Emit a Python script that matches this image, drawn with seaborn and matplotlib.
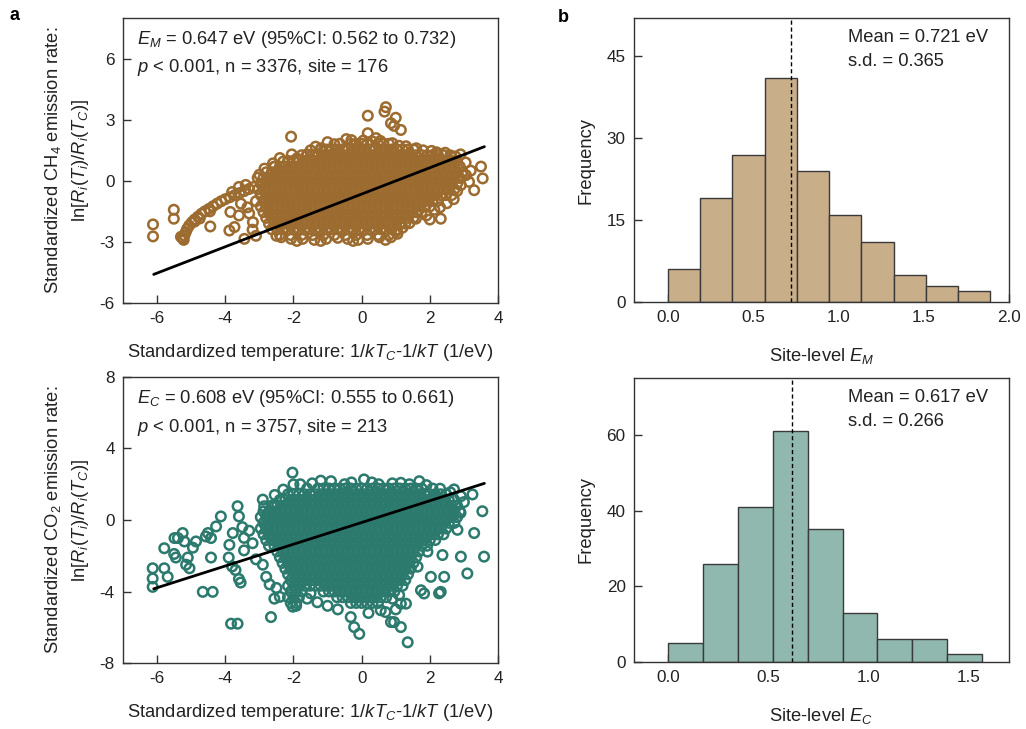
import numpy as np
import pandas as pd
import matplotlib
matplotlib.use("Agg")
import matplotlib.pyplot as plt
import seaborn as sns

# ---------------- data ----------------
# CH4 panel: dense core rows (y value, explicit x positions)
ch4_core_y = [1.82, 1.54, 1.26, 0.98, 0.70, 0.42, 0.14, -0.14, -0.42, -0.70, -0.98,
              -1.26, -1.54, -1.82, -2.10, -2.38, -2.66]
ch4_core_x = [
    "-0.64 -0.32 -0.16 0 0.16 0.48 0.64 0.8",
    "-1.2 -1.04 -0.88 -0.72 -0.56 -0.4 -0.24 -0.08 0.08 0.24 0.4 0.56 0.72 0.88 1.04 1.2 1.36 1.52",
    "-1.76 -1.6 -1.44 -1.28 -1.12 -0.96 -0.8 -0.64 -0.48 -0.32 -0.16 0 0.16 0.32 0.48 0.64 0.8 0.96 1.12 1.28 1.44 1.6 1.76 1.92 2.08 2.24 2.4",
    "-2.16 -2 -1.84 -1.68 -1.52 -1.36 -1.2 -1.04 -0.88 -0.72 -0.56 -0.4 -0.24 -0.08 0.08 0.24 0.4 0.56 0.72 0.88 1.04 1.2 1.36 1.52 1.68 1.84 2 2.16 2.32 2.48 2.64 2.8",
    "-2.56 -2.4 -2.24 -2.08 -1.92 -1.76 -1.6 -1.44 -1.28 -1.12 -0.96 -0.8 -0.64 -0.48 -0.32 -0.16 0 0.16 0.32 0.48 0.64 0.8 0.96 1.12 1.28 1.44 1.6 1.76 1.92 2.08 2.24 2.4 2.56 2.72 2.88",
    "-2.8 -2.64 -2.48 -2.32 -2.16 -2 -1.84 -1.68 -1.52 -1.36 -1.2 -1.04 -0.88 -0.72 -0.56 -0.4 -0.24 -0.08 0.08 0.24 0.4 0.56 0.72 0.88 1.04 1.2 1.36 1.52 1.68 1.84 2 2.16 2.32 2.48 2.64 2.8 2.96",
    "-2.88 -2.72 -2.56 -2.4 -2.24 -2.08 -1.92 -1.76 -1.6 -1.44 -1.28 -1.12 -0.96 -0.8 -0.64 -0.48 -0.32 -0.16 0 0.16 0.32 0.48 0.64 0.8 0.96 1.12 1.28 1.44 1.6 1.76 1.92 2.08 2.24 2.4 2.56 2.72 2.88",
    "-2.96 -2.8 -2.64 -2.48 -2.32 -2.16 -2 -1.84 -1.68 -1.52 -1.36 -1.2 -1.04 -0.88 -0.72 -0.56 -0.4 -0.24 -0.08 0.08 0.24 0.4 0.56 0.72 0.88 1.04 1.2 1.36 1.52 1.68 1.84 2 2.16 2.32 2.48 2.64 2.8",
    "-3.04 -2.88 -2.72 -2.56 -2.4 -2.24 -2.08 -1.92 -1.76 -1.6 -1.44 -1.28 -1.12 -0.96 -0.8 -0.64 -0.48 -0.32 -0.16 0 0.16 0.32 0.48 0.64 0.8 0.96 1.12 1.28 1.44 1.6 1.76 1.92 2.08 2.24 2.4 2.56 2.72",
    "-2.96 -2.8 -2.64 -2.48 -2.32 -2.16 -2 -1.84 -1.68 -1.52 -1.36 -1.2 -1.04 -0.88 -0.72 -0.56 -0.4 -0.24 -0.08 0.08 0.24 0.4 0.56 0.72 0.88 1.04 1.2 1.36 1.52 1.68 1.84 2 2.16 2.32 2.48 2.64",
    "-2.88 -2.72 -2.56 -2.4 -2.24 -2.08 -1.92 -1.76 -1.6 -1.44 -1.28 -1.12 -0.96 -0.8 -0.64 -0.48 -0.32 -0.16 0 0.16 0.32 0.48 0.64 0.8 0.96 1.12 1.28 1.44 1.6 1.76 1.92 2.08 2.24",
    "-2.96 -2.8 -2.64 -2.48 -2.32 -2.16 -2 -1.84 -1.68 -1.52 -1.36 -1.2 -1.04 -0.88 -0.72 -0.56 -0.4 -0.24 -0.08 0.08 0.24 0.4 0.56 0.72 0.88 1.04 1.2 1.36 1.52 1.68 1.84 2",
    "-2.88 -2.72 -2.56 -2.4 -2.24 -2.08 -1.92 -1.76 -1.6 -1.44 -1.28 -1.12 -0.96 -0.8 -0.64 -0.48 -0.32 -0.16 0 0.16 0.32 0.48 0.64 0.8 0.96 1.12 1.28 1.44 1.6 1.76",
    "-2.8 -2.64 -2.48 -2.32 -2.16 -2 -1.84 -1.68 -1.52 -1.36 -1.2 -1.04 -0.88 -0.72 -0.56 -0.4 -0.24 -0.08 0.08 0.24 0.4 0.56 0.72 0.88 1.04 1.2 1.36 1.52",
    "-2.72 -2.56 -2.4 -2.24 -2.08 -1.92 -1.76 -1.6 -1.44 -1.28 -1.12 -0.96 -0.8 -0.64 -0.48 -0.32 -0.16 0 0.16 0.32 0.48 0.64 0.8 0.96 1.12 1.28",
    "-2.64 -2.48 -2.32 -2.16 -2 -1.84 -1.68 -1.52 -1.36 -1.2 -1.04 -0.88 -0.72 -0.56 -0.4 -0.24 -0.08 0.08 0.24 0.4 0.56 0.72 0.88 1.04",
    "-2.4 -2.08 -1.76 -1.44 -1.12 -0.8 -0.48 -0.16 0.16 0.48 0.8",
]
# CH4 panel: individually visible points
ch4_out_x = [-5.25, -5.2, -5.16, -5.12, -5.06, -4.98, -4.9, -4.8, -4.7, -4.6, -4.48, -4.36, -4.24, -4.12,
             -4.0, -3.86, -3.72, -3.58, -3.44, -3.3, -3.16, -3.4, -3.6, -3.8, -5.3, -5.22, -4.9, -4.75, -4.45,
             -6.12, -6.12, -5.51, -5.51, -4.44, -3.85, -3.88, -3.73, -3.44, -3.19, -3.54, -3.3, -3.35, -3.6,
             -3.2, -3.1, -3.1, -3.0, -3.05, -2.85,
             -2.07, 0.18, 0.71, 0.67, 1.0, 0.86, 0.95, 1.15, 0.18, 0.42, -1.19, -1.14, -2.6, -2.56, -1.9, -1.5,
             -0.8, -0.3, 0.3, 0.9, 1.3, 1.8, 2.2, 2.6, 2.9, -1.6, -2.3,
             -2.4, -2.05, -1.35, -1.0, -0.45, 0.05, 0.55, 1.1, 1.6, 2.05, 2.45, 2.75,
             3.5, 3.55, 3.06, 3.15, 3.3, 2.91, 3.05, 3.2, 2.8, 2.7, 2.5, 2.32, 2.13, 1.59, 1.4, 1.9, 1.2, 1.0,
             2.3, 2.0,
             -2.36, -2.07, -1.73, -1.39, -1.04, -0.7, -0.41, -0.1, 0.18, 0.52, 0.86, -1.9, -1.2, -0.25, 0.7,
             -2.5, 1.05]
ch4_out_y = [-2.82, -2.68, -2.52, -2.36, -2.2, -2.04, -1.9, -1.76, -1.62, -1.5, -1.38, -1.25, -1.12, -1.0,
             -0.9, -0.8, -0.7, -0.6, -0.5, -0.4, -0.3, -0.2, -0.3, -0.55, -2.75, -2.9, -2.0, -1.85, -1.5,
             -2.14, -2.73, -1.42, -1.86, -2.24, -1.53, -2.44, -2.27, -2.85, -2.03, -1.12, -1.6, -1.3, -1.7,
             -2.4, -1.0, -2.7, 0.3, 0.15, 0.6,
             2.17, 3.2, 3.62, 3.4, 3.1, 2.83, 2.7, 2.5, 2.34, 2.1, 1.6, 1.43, 0.86, 0.69, 1.1, 1.5,
             1.8, 2.0, 1.95, 1.85, 1.7, 1.5, 1.4, 1.25, 1.3, 1.3, 0.95,
             1.12, 1.3, 1.68, 1.9, 2.05, 1.98, 1.96, 1.72, 1.6, 1.47, 1.38, 1.2,
             0.7, 0.12, 0.28, -0.05, -0.46, -0.21, 0.9, 0.5, -0.5, -0.9, -1.1, -1.86, -1.42, -1.86, -2.08, -1.7,
             -2.3, -2.5, -1.3, -1.9,
             -2.77, -2.85, -2.85, -2.9, -2.85, -2.8, -2.85, -2.9, -2.85, -2.77, -2.77, -2.95, -2.95, -2.95, -2.9,
             -2.7, -2.6]

# CO2 panel: dense core rows
co2_core_y = [1.76, 1.44, 1.12, 0.80, 0.48, 0.16, -0.16, -0.48, -0.80, -1.12, -1.44, -1.76, -2.08,
              -2.40, -2.72, -3.04, -3.36, -3.68, -4.00, -4.32, -4.64]
co2_core_x = [
    "-1.6 -1.28 -1.12 -0.96 -0.8 -0.64 -0.48 -0.32 -0.16 0 0.16 0.32 0.48 0.64 0.8 0.96 1.12 1.28 1.44 1.6 1.76 2.08",
    "-2.16 -2 -1.84 -1.68 -1.52 -1.36 -1.2 -1.04 -0.88 -0.72 -0.56 -0.4 -0.24 -0.08 0.08 0.24 0.4 0.56 0.72 0.88 1.04 1.2 1.36 1.52 1.68 1.84 2 2.16 2.32 2.48",
    "-2.4 -2.24 -2.08 -1.92 -1.76 -1.6 -1.44 -1.28 -1.12 -0.96 -0.8 -0.64 -0.48 -0.32 -0.16 0 0.16 0.32 0.48 0.64 0.8 0.96 1.12 1.28 1.44 1.6 1.76 1.92 2.08 2.24 2.4 2.56 2.72",
    "-2.64 -2.48 -2.32 -2.16 -2 -1.84 -1.68 -1.52 -1.36 -1.2 -1.04 -0.88 -0.72 -0.56 -0.4 -0.24 -0.08 0.08 0.24 0.4 0.56 0.72 0.88 1.04 1.2 1.36 1.52 1.68 1.84 2 2.16 2.32 2.48 2.64 2.8",
    "-2.88 -2.72 -2.56 -2.4 -2.24 -2.08 -1.92 -1.76 -1.6 -1.44 -1.28 -1.12 -0.96 -0.8 -0.64 -0.48 -0.32 -0.16 0 0.16 0.32 0.48 0.64 0.8 0.96 1.12 1.28 1.44 1.6 1.76 1.92 2.08 2.24 2.4 2.56 2.72 2.88",
    "-2.96 -2.8 -2.64 -2.48 -2.32 -2.16 -2 -1.84 -1.68 -1.52 -1.36 -1.2 -1.04 -0.88 -0.72 -0.56 -0.4 -0.24 -0.08 0.08 0.24 0.4 0.56 0.72 0.88 1.04 1.2 1.36 1.52 1.68 1.84 2 2.16 2.32 2.48 2.64 2.8",
    "-2.88 -2.72 -2.56 -2.4 -2.24 -2.08 -1.92 -1.76 -1.6 -1.44 -1.28 -1.12 -0.96 -0.8 -0.64 -0.48 -0.32 -0.16 0 0.16 0.32 0.48 0.64 0.8 0.96 1.12 1.28 1.44 1.6 1.76 1.92 2.08 2.24 2.4 2.56 2.72",
    "-2.96 -2.8 -2.64 -2.48 -2.32 -2.16 -2 -1.84 -1.68 -1.52 -1.36 -1.2 -1.04 -0.88 -0.72 -0.56 -0.4 -0.24 -0.08 0.08 0.24 0.4 0.56 0.72 0.88 1.04 1.2 1.36 1.52 1.68 1.84 2 2.16 2.32 2.48",
    "-2.88 -2.72 -2.56 -2.4 -2.24 -2.08 -1.92 -1.76 -1.6 -1.44 -1.28 -1.12 -0.96 -0.8 -0.64 -0.48 -0.32 -0.16 0 0.16 0.32 0.48 0.64 0.8 0.96 1.12 1.28 1.44 1.6 1.76 1.92 2.08 2.24 2.4",
    "-2.8 -2.64 -2.48 -2.32 -2.16 -2 -1.84 -1.68 -1.52 -1.36 -1.2 -1.04 -0.88 -0.72 -0.56 -0.4 -0.24 -0.08 0.08 0.24 0.4 0.56 0.72 0.88 1.04 1.2 1.36 1.52 1.68 1.84 2 2.16",
    "-2.72 -2.56 -2.4 -2.24 -2.08 -1.92 -1.76 -1.6 -1.44 -1.28 -1.12 -0.96 -0.8 -0.64 -0.48 -0.32 -0.16 0 0.16 0.32 0.48 0.64 0.8 0.96 1.12 1.28 1.44 1.6 1.76 1.92",
    "-2.48 -2.32 -2.16 -2 -1.84 -1.68 -1.52 -1.36 -1.2 -1.04 -0.88 -0.72 -0.56 -0.4 -0.24 -0.08 0.08 0.24 0.4 0.56 0.72 0.88 1.04 1.2 1.36 1.52 1.68",
    "-2.4 -2.24 -2.08 -1.92 -1.76 -1.6 -1.44 -1.28 -1.12 -0.96 -0.8 -0.64 -0.48 -0.32 -0.16 0 0.16 0.32 0.48 0.64 0.8 0.96 1.12 1.28 1.44 1.6",
    "-2.32 -2.16 -2 -1.84 -1.68 -1.52 -1.36 -1.2 -1.04 -0.88 -0.72 -0.56 -0.4 -0.24 -0.08 0.08 0.24 0.4 0.56 0.72 0.88 1.04 1.2 1.36 1.52",
    "-2.24 -2.08 -1.92 -1.76 -1.6 -1.44 -1.28 -1.12 -0.96 -0.8 -0.64 -0.48 -0.32 -0.16 0 0.16 0.32 0.48 0.64 0.8 0.96 1.12 1.28 1.44",
    "-2.16 -2 -1.84 -1.68 -1.52 -1.36 -1.2 -1.04 -0.88 -0.72 -0.56 -0.4 -0.24 -0.08 0.08 0.24 0.4 0.56 0.72 0.88 1.04 1.2 1.36",
    "-2.08 -1.92 -1.76 -1.6 -1.44 -1.28 -1.12 -0.96 -0.8 -0.64 -0.48 -0.32 -0.16 0 0.16 0.32 0.48 0.64 0.8 0.96 1.12 1.28",
    "-2.16 -2 -1.84 -1.68 -1.52 -1.36 -1.2 -1.04 -0.88 -0.72 -0.56 -0.4 -0.24 -0.08 0.08 0.24 0.4 0.56 0.72 0.88 1.04 1.2",
    "-2.08 -1.92 -1.76 -1.12 -0.96 -0.8 -0.64 -0.48 -0.32 -0.16 0 0.16 0.32 0.48 0.64 0.8 0.96",
    "-2.16 -2 -1.84 -0.72 -0.56 -0.4 -0.24 -0.08 0.08 0.24 0.4 0.56 0.72",
    "-2.08 -1.92 -0.32 -0.16 0 0.16 0.32 0.48",
]
co2_out_x = [-6.13, -6.13, -6.13, -5.79, -5.79, -5.69, -5.49, -5.39, -5.25, -5.5, -5.45, -5.2, -5.1, -5.05,
             -5.15, -4.95, -4.86, -4.57, -4.51, -4.42, -4.42, -4.66, -4.37, -4.27, -4.13, -3.88, -3.78, -3.64,
             -3.9, -3.8, -3.7, -3.6, -3.55, -3.83, -3.64, -3.6, -3.5, -3.45, -3.45, -3.3, -3.2, -3.1, -2.9,
             -2.86, -2.56, -2.66, -2.56, -2.03, -2.0, -2.8, -2.9, -2.7, -2.5, -2.4, -2.02, -1.92,
             -1.2, -0.9, 0.07, 1.15, 1.69, 2.71, 2.91, 3.25, 2.3, -0.5, 0.5,
             -1.8, -1.45, -0.3, 0.3, 0.9, 1.4, 1.9, 2.6, -2.3, -2.55,
             3.54, 3.3, 3.59, 2.91, 3.1, 2.37, 2.42, 2.27, 2.32, 1.93, 2.03, 1.74, 1.83, 1.64, 1.3, 1.15, 1.35,
             0.86, 0.95, -0.22, -0.07, -0.32, 0.56, 0.7, 1.15, 2.81, 2.62, 3.0, 2.9,
             -1.6, -1.3, -1.0, -0.7, -1.5, 0.9, 1.1, 0.2, 1.0]
co2_out_y = [-2.7, -3.27, -3.74, -1.58, -2.7, -3.18, -1.01, -1.01, -0.73, -1.9, -2.1, -1.2, -2.1, -2.7,
             -2.5, -1.55, -1.2, -0.92, -0.73, -1.01, -2.1, -4.02, -4.02, -0.36, 0.2, -1.39, -0.73, 0.77,
             -2.1, -2.6, -2.8, -3.3, -3.5, -5.8, -5.8, 0.2, -0.4, -1.0, -1.7, -0.6, -1.3, -2.2, 1.14,
             0.77, 0.77, -5.43, -4.4, 2.65, 1.99, -3.18, -2.5, -3.6, -3.8, -4.3, -4.85, -4.8,
             2.2, 2.17, 2.27, 2.08, 2.17, 1.71, 1.33, 1.43, 1.75, 2.0, 2.0,
             2.0, 2.05, 2.1, 2.1, 2.05, 2.0, 1.95, 1.55, 1.7, 1.4,
             0.49, -0.73, -2.05, -2.05, -2.99, -1.96, -3.18, -4.1, -4.02, -1.77, -3.18, -3.93, -4.11, -2.61,
             -4.68, -5.99, -6.84, -5.71, -5.71, -5.99, -6.37, -5.43, -5.05, -5.15, -4.68, -0.55, 0.2, 1.0, 0.4,
             -4.4, -4.6, -4.8, -5.0, -4.1, -4.4, -4.2, -5.2, -5.0]

# regression fits
ch4_slope, ch4_intercept = 0.647, -0.65
co2_slope, co2_intercept = 0.608, -0.14
fit_x_range = [-6.1, 3.6]

# site-level histograms
ch4_hist_edges = [0.0, 0.189, 0.378, 0.567, 0.756, 0.945, 1.134, 1.323, 1.512, 1.701, 1.89]
ch4_hist_counts = [6, 19, 27, 41, 24, 16, 11, 5, 3, 2]
ch4_mean = 0.721
co2_hist_edges = [0.0, 0.174, 0.348, 0.522, 0.696, 0.870, 1.044, 1.218, 1.392, 1.566]
co2_hist_counts = [5, 26, 41, 61, 35, 13, 6, 6, 2]
co2_mean = 0.617

# ---------------- style ----------------
sns.set_theme(style="ticks")
plt.rcParams["font.family"] = ["Liberation Sans", "DejaVu Sans"]
plt.rcParams["mathtext.fontset"] = "custom"
plt.rcParams["mathtext.rm"] = "Liberation Sans"
plt.rcParams["mathtext.it"] = "Liberation Sans:italic"
plt.rcParams["mathtext.bf"] = "Liberation Sans:bold"
plt.rcParams["axes.unicode_minus"] = False

BROWN = "#9C6B2F"
TEAL = "#2C7A6E"
TAN = "#C9AE8A"
SAGE = "#90B8AE"
INK = "#222222"
FS = 13.2
TFS = 12.3

fig = plt.figure(figsize=(10.26, 7.29), dpi=100)


def build_points(core_y, core_x, out_x, out_y):
    xs, ys = [], []
    for yv, row in zip(core_y, core_x):
        for v in row.split():
            xs.append(float(v))
            ys.append(yv)
    xs += list(out_x)
    ys += list(out_y)
    return pd.DataFrame({"x": xs, "y": ys})


def style_axes(ax):
    for s in ax.spines.values():
        s.set_visible(True)
        s.set_linewidth(1.0)
        s.set_color("#333333")
    ax.tick_params(direction="in", length=6, width=1, color="#333333",
                   labelsize=TFS, labelcolor=INK, pad=6)


def scatter_panel(rect, df, color, slope, intercept, ylim, yticks, gas, lines):
    ax = fig.add_axes(rect)
    sns.scatterplot(data=df, x="x", y="y", ax=ax, s=47, marker="o",
                    facecolors="none", edgecolors=color, linewidths=1.8,
                    legend=False, zorder=2)
    fit = pd.DataFrame({"x": fit_x_range,
                        "y": [slope * v + intercept for v in fit_x_range]})
    sns.lineplot(data=fit, x="x", y="y", ax=ax, color="black", linewidth=2.0, zorder=3)
    ax.set_xlim(-7, 4)
    ax.set_ylim(*ylim)
    ax.set_xticks([-6, -4, -2, 0, 2, 4])
    ax.set_yticks(yticks)
    style_axes(ax)
    ax.set_xlabel(r"Standardized temperature: 1/$kT_C$-1/$kT$ (1/eV)",
                  fontsize=FS, color=INK, labelpad=11)
    ax.set_ylabel("Standardized " + gas + " emission rate:\n" +
                  r"ln[$R_i$($T_i$)/$R_i$($T_C$)]",
                  fontsize=FS, color=INK, labelpad=6, linespacing=1.45)
    ax.text(0.037, 0.923, lines[0], transform=ax.transAxes, fontsize=FS,
            color=INK, va="center", ha="left")
    ax.text(0.037, 0.825, lines[1], transform=ax.transAxes, fontsize=FS,
            color=INK, va="center", ha="left")
    return ax


def hist_panel(rect, edges, counts, color, mean, sd, xlim, xticks, ylim, yticks, sub):
    ax = fig.add_axes(rect)
    centers = [(edges[i] + edges[i + 1]) / 2 for i in range(len(counts))]
    sns.histplot(x=centers, weights=counts, bins=edges, ax=ax, color=color,
                 edgecolor="#3a3a3a", linewidth=1.0, alpha=1.0)
    ax.axvline(mean, color="black", linestyle=(0, (3, 2)), linewidth=1.0)
    ax.set_xlim(*xlim)
    ax.set_ylim(*ylim)
    ax.set_xticks(xticks)
    ax.set_xticklabels([f"{t:.1f}" for t in xticks])
    ax.set_yticks(yticks)
    style_axes(ax)
    ax.set_xlabel("Site-level $E_" + sub + "$", fontsize=FS, color=INK, labelpad=15)
    ax.set_ylabel("Frequency", fontsize=FS, color=INK, labelpad=9)
    ax.text(0.571, 0.933, f"Mean = {mean:.3f} eV", transform=ax.transAxes,
            fontsize=FS, color=INK, va="center", ha="left")
    ax.text(0.571, 0.848, f"s.d. = {sd}", transform=ax.transAxes,
            fontsize=FS, color=INK, va="center", ha="left")
    return ax


ch4_df = build_points(ch4_core_y, ch4_core_x, ch4_out_x, ch4_out_y)
co2_df = build_points(co2_core_y, co2_core_x, co2_out_x, co2_out_y)

scatter_panel([0.1199, 0.5844, 0.3655, 0.3909], ch4_df, BROWN, ch4_slope, ch4_intercept,
              (-6, 8), [-6, -3, 0, 3, 6], r"CH$_4$",
              [r"$E_M$ = 0.647 eV (95%CI: 0.562 to 0.732)",
               r"$p$ < 0.001, n = 3376, site = 176"])
scatter_panel([0.1199, 0.0905, 0.3655, 0.3924], co2_df, TEAL, co2_slope, co2_intercept,
              (-8, 8), [-8, -4, 0, 4, 8], r"CO$_2$",
              [r"$E_C$ = 0.608 eV (95%CI: 0.555 to 0.661)",
               r"$p$ < 0.001, n = 3757, site = 213"])

hist_panel([0.6179, 0.5857, 0.3655, 0.3896], ch4_hist_edges, ch4_hist_counts, TAN,
           ch4_mean, "0.365", (-0.2, 2.0), [0, 0.5, 1.0, 1.5, 2.0], (0, 52), [0, 15, 30, 45], "M")
hist_panel([0.6179, 0.0919, 0.3655, 0.3896], co2_hist_edges, co2_hist_counts, SAGE,
           co2_mean, "0.266", (-0.17, 1.7), [0, 0.5, 1.0, 1.5], (0, 75), [0, 20, 40, 60], "C")

fig.text(0.0146, 0.979, "a", fontsize=13, fontweight="bold", ha="center", va="center", color="black")
fig.text(0.549, 0.976, "b", fontsize=13, fontweight="bold", ha="center", va="center", color="black")

fig.savefig("out.png", dpi=100)
